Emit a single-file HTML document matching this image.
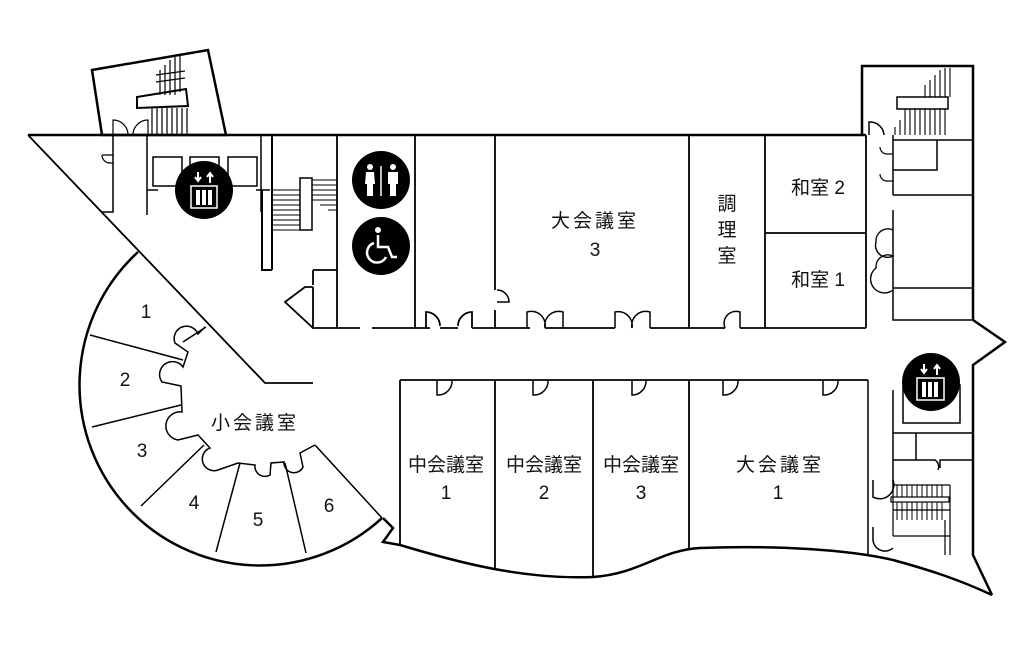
<!DOCTYPE html>
<html><head><meta charset="utf-8"><style>
html,body{margin:0;padding:0;background:#fff}
svg{display:block}
text{font-family:"Liberation Sans","Noto Sans CJK JP",sans-serif;fill:#111}
</style></head><body>
<svg width="1035" height="650" viewBox="0 0 1035 650" xmlns="http://www.w3.org/2000/svg">
<g fill="none" stroke="#000" stroke-width="2">
<polygon points="92,70 208,50 226,135 102,135" stroke-width="2.5"/>
<path d="M137,97 L186,89 L188,106 L137,108 Z"/>
<path d="M152,108 V135 M157,108 V135 M162,108 V135 M167,108 V135 M172,108 V135 M177,108 V135 M182,108 V135 M187,108 V135" stroke-width="1.2"/>
<path d="M160,70 V95 M165,65 V95 M170,60 V95 M175,57 V95 M180,55 V92 M156,75 L185,71 M156,82 L185,78" stroke-width="1.2"/>
<path d="M113,135 V120 A15,15 0 0 1 128,135 M148,135 V120 A15,15 0 0 0 133,135" stroke-width="1.2"/>
<path d="M28,135 H866" stroke-width="2.5"/>
<path d="M28,135 L265,383 H313" stroke-width="1.8"/>
<path d="M113,135 V212 H102 M147,135 V215 M147,190 H158 M261,135 V212 M256,190 H270" stroke-width="1.5"/>
<path d="M102,155 A8,8 0 0 0 110,163 H113 M102,155 H113" stroke-width="1.2"/>
<rect x="153" y="157" width="29" height="29" stroke-width="1.5"/>
<rect x="190" y="157" width="29" height="29" stroke-width="1.5"/>
<rect x="228" y="157" width="29" height="29" stroke-width="1.5"/>
<path d="M272,135 V270 M262,190 V270 H272" stroke-width="2"/>
<path d="M272,190 H300 M272,195 H300 M272,200 H300 M272,205 H300 M272,210 H300 M272,215 H300 M272,220 H300 M272,225 H300 M272,230 H300" stroke-width="1.1"/>
<rect x="300" y="178" width="12" height="52" stroke-width="1.5"/>
<path d="M312,180 H337 M312,185 H337 M312,190 H337 M312,195 H337 M312,200 H337 M320,205 H337 M328,210 H337" stroke-width="1.1"/>
<path d="M337,135 V328 M313,270 H337 M313,287 H305 L285,302 L313,328 M313,287 V328 H360 M372,328 H415" stroke-width="1.8"/>
<path d="M313,270 V285" stroke-width="1.8"/>
<path d="M415,135 V328 M415,328 H430 M495,135 V290 M495,310 V328 M689,135 V328 M765,135 V328 M765,233 H866 M866,135 V328" stroke-width="1.8"/>
<path d="M426,328 V312 A14,14 0 0 1 440,326 M472,328 V312 A14,14 0 0 0 458,326 M440,328 H458 M472,328 H530 M545,328 H615 M650,328 H725 M740,328 H866" stroke-width="1.8"/>
<path d="M497,290 A12,12 0 0 1 509,302 H497" stroke-width="1.5"/>
<path d="M527,328 V312 A14,14 0 0 1 545,328 M563,328 V312 A14,14 0 0 0 545,328 M615,328 V312 A14,14 0 0 1 632,328 M650,328 V312 A14,14 0 0 0 632,328 M725,328 A12,12 0 0 1 740,312 V328" stroke-width="1.5"/>
<path d="M862,135 V66 H973 V320" stroke-width="2.5"/>
<path d="M869,135 V122 A14,14 0 0 1 884,135" stroke-width="1.5"/>
<path d="M893,135 V195 M893,140 H973 M893,170 H937 V140 M893,195 H973 M893,288 H973 V320 H893 V288 M893,210 V288" stroke-width="1.5"/>
<path d="M880,147 A7,7 0 0 0 887,154 H893 M880,174 A7,7 0 0 0 887,181 H893" stroke-width="1.2"/>
<path d="M893,230 A12,12 0 0 0 876,242 A12,12 0 0 0 893,256 A12,12 0 0 0 876,268 A12,12 0 0 0 893,290" stroke-width="1.4"/>
<rect x="897" y="97" width="51" height="12" stroke-width="1.5"/>
<path d="M905,135 V109 M910,135 V109 M915,135 V109 M920,135 V109 M925,135 V109 M930,135 V109 M935,135 V109 M940,135 V109 M945,135 V109 M935,97 V75 M940,97 V70 M945,97 V68 M950,97 V68 M930,97 V80 M925,97 V85 M900,135 V120 M895,135 V127" stroke-width="1.1"/>
<path d="M973,320 L1005,342 L973,365 V555 L992,595" stroke-width="2.5"/>
<path d="M893,390 V433 H973 M893,433 V490 M893,460 H916 V433 M916,460 H935 A8,8 0 0 1 938,470 M940,468 V460 H973" stroke-width="1.5"/>
<rect x="903" y="385" width="57" height="38" stroke-width="1.5"/>
<path d="M893,485 H950 M893,510 H950 M893,488 V536 M893,536 H950" stroke-width="1.2"/>
<rect x="891" y="497" width="58" height="5" stroke-width="1.2"/>
<path d="M897,485 V497 M902,485 V497 M907,485 V497 M912,485 V497 M917,485 V497 M922,485 V497 M927,485 V497 M932,485 V497 M937,485 V497 M942,485 V497 M897,502 V520 M902,502 V520 M907,502 V520 M912,502 V520 M917,502 V520 M922,502 V520 M927,502 V520 M932,502 V520 M937,502 V520 M942,502 V520" stroke-width="1"/>
<path d="M950,485 V555 M945,520 V555" stroke-width="1.2"/>
<path d="M873,480 V497 A14,14 0 0 0 893,480 M873,527 V540 A12,12 0 0 0 893,548 M868,380 V555" stroke-width="1.5"/>
<path d="M400,380 H868 M400,380 V545 M495,380 V570 M593,380 V577 M689,380 V550" stroke-width="1.8"/>
<path d="M437,380 V395 A14,14 0 0 0 452,380 M533,380 V395 A14,14 0 0 0 548,380 M632,380 V395 A14,14 0 0 0 646,380 M723,380 V395 A14,14 0 0 0 738,380 M823,380 V395 A14,14 0 0 0 838,380" stroke-width="1.5"/>
<path d="M383,518 L393,528 L383,542 L400,545 C450,560 520,580 593,577 C640,574 660,550 700,548 C780,545 850,550 893,560 C930,570 960,580 992,595" stroke-width="2.5"/>
<path d="M138,252 A177,177 0 1 0 382,518" stroke-width="2.5"/>
<path d="M90,335 L183,360 M92,427 L181,405 M141,506 L204,445 M216,552 L240,463 M306,553 L285,463 M315,445 L382,518 M206,327 L183,342" stroke-width="1.5"/>
<path d="M205,327 L198,334 A10,10 0 0 0 175,343 L188,352 L183,367 A10,10 0 0 0 162,382 L181,386 L182,412 A10,10 0 0 0 178,440 L198,435 L210,448 A10,10 0 0 0 218,470 L238,463 L255,465 A10,10 0 0 0 270,475 L271,463 L284,462 A10,10 0 0 0 303,467 L300,453 L315,445" stroke-width="1.5"/>
</g>
<g>
<circle cx="204" cy="190" r="29" fill="#000"/>
<rect x="191" y="186" width="26" height="22" fill="none" stroke="#fff" stroke-width="1.5"/>
<path d="M196,190 h4 v15 h-4z M202,190 h4 v15 h-4z M208,190 h4 v15 h-4z" fill="#fff"/>
<path d="M198,172 v8 M195,177 l3,4 l3,-4 M210,183 v-9 M207,177 l3,-4 l3,4" stroke="#fff" stroke-width="2" fill="none"/>
<circle cx="381" cy="180" r="29" fill="#000"/>
<path d="M381,166 v30" stroke="#fff" stroke-width="1.5"/>
<circle cx="370" cy="167" r="3" fill="#fff"/><path d="M366,172 h8 l1,12 h-2 v12 h-6 v-12 h-2z" fill="#fff"/>
<circle cx="393" cy="167" r="3" fill="#fff"/><path d="M388,172 h10 v12 h-2 v12 h-6 v-12 h-2z" fill="#fff"/>
<circle cx="381" cy="246" r="29" fill="#000"/>
<circle cx="378" cy="230" r="3" fill="#fff"/>
<path d="M378,235 v12 h10 l4,10 h5" stroke="#fff" stroke-width="2.5" fill="none"/>
<path d="M374,243 a10,10 0 1 0 12,14" stroke="#fff" stroke-width="2.5" fill="none"/>
<circle cx="931" cy="382" r="29" fill="#000"/>
<rect x="917" y="378" width="27" height="22" fill="none" stroke="#fff" stroke-width="1.5"/>
<path d="M922,382 h4 v15 h-4z M928,382 h4 v15 h-4z M934,382 h4 v15 h-4z" fill="#fff"/>
<path d="M924,364 v8 M921,369 l3,4 l3,-4 M937,375 v-9 M934,369 l3,-4 l3,4" stroke="#fff" stroke-width="2" fill="none"/>
</g>
<g font-size="19">
<text x="595" y="227" text-anchor="middle" letter-spacing="3">大会議室</text>
<text x="595" y="256" text-anchor="middle">3</text>
<text x="727" y="210" text-anchor="middle">調</text>
<text x="727" y="236" text-anchor="middle">理</text>
<text x="727" y="262" text-anchor="middle">室</text>
<text x="818" y="194" text-anchor="middle">和室 2</text>
<text x="818" y="286" text-anchor="middle">和室 1</text>
<text x="446" y="471" text-anchor="middle">中会議室</text>
<text x="446" y="499" text-anchor="middle">1</text>
<text x="544" y="471" text-anchor="middle">中会議室</text>
<text x="544" y="499" text-anchor="middle">2</text>
<text x="641" y="471" text-anchor="middle">中会議室</text>
<text x="641" y="499" text-anchor="middle">3</text>
<text x="780" y="471" text-anchor="middle" letter-spacing="3">大会議室</text>
<text x="778" y="499" text-anchor="middle">1</text>
<text x="255" y="429" text-anchor="middle" letter-spacing="3">小会議室</text>
<text x="146" y="318" text-anchor="middle">1</text>
<text x="125" y="386" text-anchor="middle">2</text>
<text x="142" y="457" text-anchor="middle">3</text>
<text x="194" y="509" text-anchor="middle">4</text>
<text x="258" y="526" text-anchor="middle">5</text>
<text x="329" y="512" text-anchor="middle">6</text>
</g>
</svg>
</body></html>
